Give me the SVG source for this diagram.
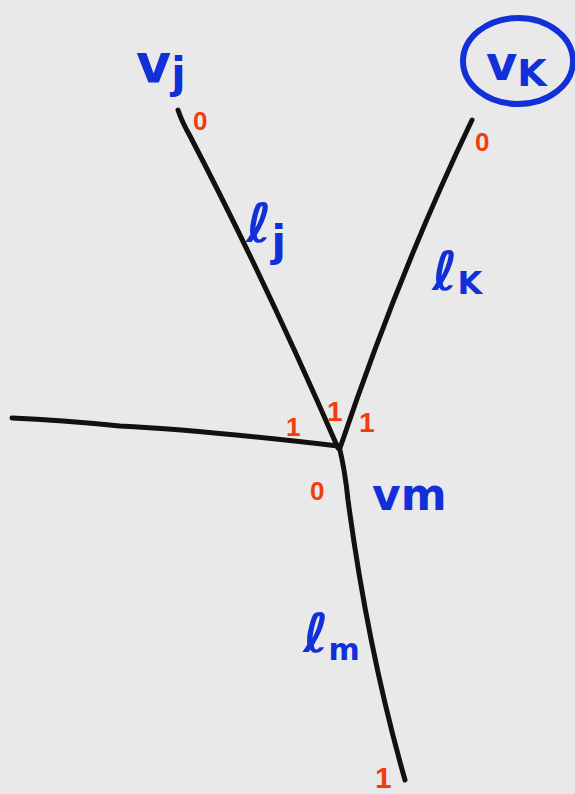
<svg xmlns="http://www.w3.org/2000/svg" width="575" height="794" viewBox="0 0 575 794">
<style>
.edge{fill:none;stroke:#111;stroke-width:5;stroke-linecap:round;stroke-linejoin:round}
.red{fill:#f03c10;font-family:"Liberation Sans",sans-serif;font-weight:bold}
.blue{fill:#1230d8;font-family:"DejaVu Sans",sans-serif;font-weight:bold}
</style>
<rect width="575" height="794" fill="#e9e9e9"/>
<g id="connectors">
<path class="edge" d="M178,110 Q182,122 190,136 Q265,280 338,448"/>
<path class="edge" d="M472,120 Q400,270 340,448"/>
<path class="edge" d="M12,418 Q60,420 120,426 Q200,430 338,446"/>
<path class="edge" d="M339,446 Q345,470 348,500 Q368,650 405,780"/>
</g>
<g id="node-vj"><text class="blue" x="136" y="82" font-size="54">v<tspan font-size="42" dy="6">j</tspan></text></g>
<g id="node-vk">
<ellipse cx="518" cy="61" rx="55" ry="43" fill="none" stroke="#1230d8" stroke-width="6"/>
<text class="blue" x="486" y="80" font-size="48">v<tspan font-size="38" dy="6">K</tspan></text>
</g>
<g id="node-vm"><text class="blue" x="372" y="510" font-size="44">vm</text></g>
<g id="labels">
<text class="blue" x="246" y="242" font-size="54">ℓ<tspan font-size="42" dy="14">j</tspan></text>
<text class="blue" x="432" y="290" font-size="54">ℓ<tspan font-size="32" dy="4">K</tspan></text>
<text class="blue" x="303" y="652" font-size="54">ℓ<tspan font-size="30" dy="8">m</tspan></text>
<text class="red" x="193" y="130" font-size="26">0</text>
<text class="red" x="475" y="151" font-size="26">0</text>
<text class="red" x="286" y="436" font-size="26">1</text>
<text class="red" x="327" y="421" font-size="28">1</text>
<text class="red" x="359" y="432" font-size="28">1</text>
<text class="red" x="310" y="500" font-size="26">0</text>
<text class="red" x="375" y="788" font-size="30">1</text>
</g>
</svg>
